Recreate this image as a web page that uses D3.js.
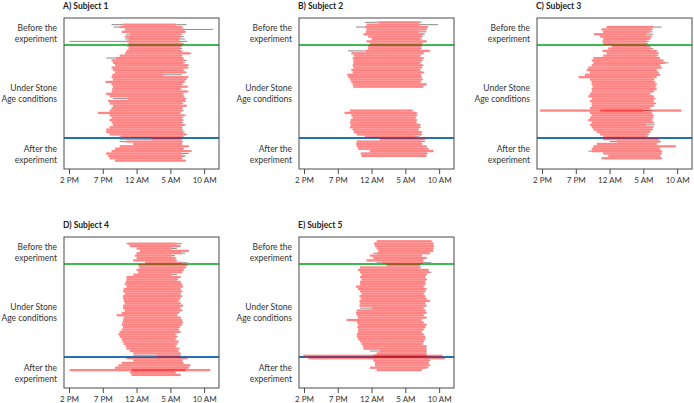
<!DOCTYPE html>
<html><head><meta charset="utf-8">
<script src="https://cdn.jsdelivr.net/npm/d3@7"></script>
<style>body{margin:0;background:#fff}svg{display:block}text{font-family:Lato,"Open Sans",sans-serif}</style>
</head><body><svg id="chart" width="694" height="403"></svg>
<script>
// ---- data ----
const titles = ["A) Subject 1", "B) Subject 2", "C) Subject 3", "D) Subject 4", "E) Subject 5"];
const phaseLabels = [["Before the", "experiment"], ["Under Stone", "Age conditions"], ["After the", "experiment"]];
const tickHours = [14, 19, 24, 29, 34];
const tickLabels = ["2 PM", "7 PM", "12 AM", "5 AM", "10 AM"];
const phaseBreaks = [11.5, 50.5]; // day boundaries: start / end of Stone Age conditions
// rows: [day, in-bed start, sleep onset, sleep offset, out-of-bed] (clock hours)
const subject1 = [
[3,20.3,22.0,5.9,7.4],[4,20.6,21.5,6.7,6.9],[5,22.3,22.3,7.0,11.3],[6,21.8,21.8,7.2,7.3],[7,22.5,23.0,6.5,6.8],
[8,22.3,22.3,6.6,7.0],[9,22.3,22.8,6.3,7.2],[10,14.1,22.5,6.4,7.5],[11,22.8,22.8,6.8,7.0],
[12,22.6,22.8,6.6,6.8],[13,22.8,22.8,6.4,6.7],[14,22.5,22.5,6.6,6.9],[15,22.3,22.3,7.9,8.1],[16,21.5,21.5,6.6,6.8],
[17,19.5,20.9,6.9,7.0],[18,20.3,20.3,7.1,7.4],[19,20.5,20.5,6.9,7.2],[20,20.8,20.8,7.6,7.8],[21,20.3,20.3,7.5,7.7],
[22,20.5,20.5,6.9,7.0],[23,20.8,20.8,7.3,7.4],[24,20.4,20.4,4.0,6.7],[25,20.3,20.3,7.6,7.7],[26,20.5,20.5,7.2,7.4],
[27,19.4,19.4,7.1,7.2],[28,20.3,20.3,6.7,6.9],[29,20.5,20.5,7.5,7.6],[30,20.4,20.4,6.5,6.7],[31,20.3,20.3,7.5,7.7],
[32,19.5,19.5,6.8,7.0],[33,20.0,20.0,7.0,7.1],[34,20.5,22.7,7.2,7.4],[35,19.8,19.8,7.2,7.3],[36,20.0,20.0,6.7,6.9],
[37,20.5,20.5,7.4,7.5],[38,20.3,20.3,6.7,6.9],[39,20.0,20.0,6.8,7.0],[40,18.3,18.3,6.4,6.6],[41,20.0,20.0,7.1,7.3],
[42,20.3,20.3,6.7,6.9],[43,20.0,20.0,6.8,7.0],[44,20.3,20.3,6.7,6.9],[45,20.5,20.5,7.1,7.3],[46,20.0,20.0,6.7,6.8],
[47,19.5,19.5,6.7,6.9],[48,19.5,19.5,6.9,7.1],[49,20.0,20.0,7.3,7.5],[50,21.5,21.8,6.8,7.0],
[51,21.5,2.2,6.7,6.8],[52,21.5,22.5,6.7,6.9],[53,23.5,23.5,6.7,6.8],[54,21.5,21.5,7.7,7.8],[55,20.8,20.8,6.9,7.0],
[56,20.3,20.3,8.0,8.2],[57,19.5,19.5,6.6,7.7],[58,19.8,19.8,7.0,7.3],[59,20.0,20.0,6.7,6.8],[60,20.8,20.8,7.2,7.3]
];
const subject2 = [
[2,23.0,1.0,7.1,7.4],[3,23.25,23.25,7.1,9.85],[4,21.7,23.0,8.3,8.4],[5,23.25,23.25,8.1,8.2],[6,23.15,23.15,7.0,8.1],
[7,22.8,22.8,7.65,7.9],[8,23.5,23.5,7.4,7.6],[9,0.0,0.0,7.15,7.5],[10,23.25,23.25,8.1,8.2],[11,23.75,23.75,7.4,7.6],
[12,23.5,23.5,7.4,7.5],[13,23.5,23.5,7.25,7.4],[14,20.5,23.15,8.6,8.7],[15,21.0,21.0,7.65,7.8],[16,21.3,21.5,7.15,7.3],
[17,21.2,21.2,7.65,7.8],[18,21.3,21.3,7.4,7.6],[19,21.3,21.3,7.15,7.4],[20,21.2,21.2,7.55,7.7],[21,21.3,21.3,7.4,7.5],
[22,21.0,21.0,7.15,7.3],[23,21.2,21.2,7.65,7.8],[24,20.4,20.4,7.25,7.4],[25,20.55,20.55,7.4,7.5],[26,20.8,20.8,7.4,7.6],
[27,21.0,21.0,7.25,7.4],[28,21.2,21.2,8.1,8.2],[29,21.3,21.3,7.65,7.7],
[39,20.8,20.8,6.05,6.2],[40,20.0,20.0,6.65,6.8],[41,21.0,21.0,6.65,6.8],[42,21.2,21.2,6.4,6.6],[43,20.9,20.9,6.65,6.8],
[44,20.8,20.8,6.65,6.7],[45,20.9,20.9,7.15,7.3],[46,20.8,20.8,7.15,7.3],[47,21.2,21.2,6.9,7.0],[48,21.4,21.4,7.4,7.5],
[49,21.8,21.8,7.4,7.5],[50,23.0,23.0,6.4,7.1],
[51,1.2,1.2,7.9,8.0],[52,21.8,21.8,7.4,7.9],[53,21.7,21.7,7.4,7.6],[54,21.8,21.8,8.1,8.2],[55,22.0,22.0,8.4,8.5],
[56,23.75,23.75,9.1,9.2],[57,22.4,22.4,8.1,8.3],[58,22.5,22.5,8.1,8.2]
];
const subject3 = [
[4,23.55,23.55,6.45,7.7],[5,22.8,22.8,6.2,6.4],[6,23.05,23.05,5.95,6.35],[7,21.7,21.7,5.45,6.45],[8,22.6,22.6,6.2,6.3],
[9,23.05,23.05,5.95,6.1],[10,22.95,22.95,5.45,5.8],[11,23.05,23.05,5.45,5.7],
[12,0.3,0.3,5.95,6.1],[13,23.8,23.8,6.2,6.45],[14,22.95,22.95,6.95,7.1],[15,23.55,23.55,7.2,7.3],[16,23.05,23.05,6.95,7.2],
[17,21.6,21.6,7.45,7.5],[18,21.35,21.35,7.95,8.0],[19,21.6,21.6,8.2,8.7],[20,21.35,21.35,7.45,7.6],[21,20.85,20.85,7.7,7.8],
[22,20.6,20.6,6.95,7.1],[23,21.1,21.1,7.2,7.3],[24,20.35,20.35,7.45,7.5],[25,19.4,19.4,6.95,7.0],[26,21.1,21.1,6.45,6.6],
[27,21.35,21.35,6.7,6.8],[28,21.35,21.35,6.95,7.0],[29,21.5,21.5,6.7,6.9],[30,21.35,21.35,6.95,7.0],[31,21.35,21.35,6.45,6.6],
[32,21.1,21.1,5.95,6.1],[33,20.85,20.85,6.45,6.6],[34,21.35,21.35,6.7,6.8],[35,21.1,21.1,6.45,6.6],[36,21.35,21.35,6.7,6.9],
[37,21.35,21.35,6.45,6.6],[38,21.1,21.1,5.95,6.1],[39,13.7,13.7,10.65,10.65],[39,22.6,22.6,5.0,6.2],[40,21.1,21.1,6.2,6.3],
[41,21.35,21.35,6.45,6.6],[42,21.1,21.1,6.45,6.5],[43,20.85,20.85,6.2,6.4],[44,21.35,21.35,6.45,6.6],[45,21.1,21.1,5.45,6.7],
[46,21.35,21.35,6.45,6.5],[47,21.6,21.6,6.2,6.4],[48,22.1,22.1,5.95,6.1],[49,22.6,22.6,5.7,5.8],[50,23.05,23.05,5.45,5.7],
[51,23.05,23.05,7.2,7.4],[52,0.05,1.05,7.45,7.6],[53,22.1,22.1,6.95,7.1],[54,21.6,21.6,9.8,9.8],[55,21.35,21.35,7.45,7.5],
[56,20.85,21.4,7.7,7.8],[57,23.05,23.05,7.7,7.8],[58,23.8,23.8,7.45,7.6],[59,22.8,22.8,7.7,7.8]
];
const subject4 = [
[3,22.5,22.75,5.95,6.7],[4,23.0,23.0,6.45,6.6],[5,0.0,0.0,5.2,5.95],[6,0.5,0.5,7.7,7.8],[7,0.0,0.0,6.7,7.2],
[8,23.75,23.75,5.2,5.7],[9,0.0,0.0,5.7,5.9],[10,23.5,23.5,5.85,6.0],[11,1.25,1.25,6.7,7.5],
[12,0.25,0.25,7.45,7.6],[13,0.4,0.4,7.2,7.3],[14,0.0,0.0,6.95,7.0],[15,0.25,0.25,6.7,6.8],[16,23.5,23.5,5.2,6.0],
[17,22.5,22.5,6.45,6.6],[18,22.5,22.5,5.95,6.1],[19,22.4,22.4,6.45,6.6],[20,22.25,22.25,6.7,6.8],[21,22.5,22.5,6.85,6.9],
[22,22.1,22.1,6.45,6.6],[23,22.0,22.0,6.7,6.8],[24,22.25,22.25,6.45,6.6],[25,22.0,22.0,6.7,6.8],[26,22.0,22.0,6.45,6.5],
[27,22.1,22.1,6.2,6.4],[28,22.25,22.25,6.45,6.6],[29,22.0,22.0,6.85,6.9],[30,22.0,22.0,6.45,6.5],[31,22.25,22.25,6.7,6.8],
[32,21.8,21.8,6.2,6.4],[33,21.05,21.05,5.95,6.1],[34,22.1,22.1,6.45,6.6],[35,22.0,22.0,6.7,6.8],[36,21.9,21.9,6.85,6.9],
[37,21.8,21.8,6.7,6.8],[38,22.0,22.0,6.35,6.5],[39,21.8,21.8,6.2,6.3],[40,21.5,21.5,6.45,6.6],[41,21.3,21.3,5.7,5.9],
[42,21.5,21.5,5.95,6.1],[43,21.8,21.8,5.7,5.9],[44,21.9,21.9,6.2,6.3],[45,22.1,22.1,5.95,6.1],[46,22.4,22.4,5.7,5.9],
[47,22.5,22.5,6.2,6.4],[48,23.0,23.0,6.2,6.3],[49,23.5,23.5,6.45,6.6],[50,23.5,3.0,6.45,6.6],
[51,22.5,22.5,7.45,7.6],[52,23.5,23.5,6.7,6.8],[53,21.8,21.8,6.95,7.0],[54,21.3,21.3,7.9,8.0],[55,20.8,20.8,7.7,7.8],
[56,14.1,14.1,10.9,10.9],[56,23.25,23.25,7.2,7.3],[57,23.0,23.0,5.7,5.8],[58,23.25,23.25,6.45,6.6]
];
const subject5 = [
[2,0.75,0.75,8.85,9.0],[3,0.35,0.35,9.1,9.2],[4,0.5,0.5,9.2,9.3],[5,0.75,0.75,9.1,9.2],[6,1.0,1.0,9.1,9.15],
[7,0.25,0.8,8.6,8.7],[8,23.75,23.75,7.4,7.5],[9,0.25,0.25,8.1,8.2],[10,23.25,23.25,7.65,7.7],[11,0.75,1.5,7.65,8.85],
[12,2.2,2.2,7.15,7.3],[13,22.3,22.3,7.15,7.3],[14,22.0,22.0,8.4,8.5],[15,22.3,22.3,8.6,8.85],[16,22.5,22.5,8.1,8.2],
[17,22.3,22.3,7.9,8.0],[18,22.5,22.5,8.1,8.2],[19,22.3,22.3,7.9,8.0],[20,22.3,22.3,7.9,8.0],[21,21.7,21.7,7.65,7.8],
[22,22.0,22.0,8.1,8.2],[23,22.3,22.3,7.9,8.0],[24,22.5,22.5,7.65,7.8],[25,22.2,22.2,7.9,8.0],[26,22.4,22.4,8.1,8.2],
[27,22.2,22.2,8.6,8.7],[28,22.3,22.3,7.9,8.0],[29,22.2,22.2,8.1,8.2],[30,22.3,0.0,7.65,7.8],[31,21.8,21.8,7.9,8.0],
[32,21.7,21.7,8.1,8.2],[33,21.8,21.8,7.65,7.8],[34,22.0,22.0,8.1,8.2],[35,20.3,20.3,7.4,7.5],[36,21.8,21.8,7.65,7.8],
[37,22.0,22.0,8.1,8.2],[38,21.9,21.9,7.9,8.0],[39,22.0,22.0,7.65,7.8],[40,22.0,22.0,7.4,7.5],[41,21.8,21.8,7.65,7.8],
[42,21.8,21.8,7.9,8.0],[43,22.0,22.0,7.9,8.0],[44,22.3,22.3,7.65,7.8],[45,22.5,22.5,7.55,7.7],[46,22.7,22.7,8.1,8.2],
[47,22.8,22.8,8.1,8.2],[48,23.75,1.25,8.1,8.2],[49,0.75,0.75,8.1,8.2],[50,13.9,13.9,10.5,10.5],[50,0.25,0.25,8.1,8.2],
[51,14.65,14.65,10.85,10.85],
[52,0.25,0.25,8.6,8.7],[53,0.5,0.5,8.4,8.5],[54,0.5,0.5,8.6,8.7],[55,23.75,23.75,8.1,8.4],[56,0.75,0.75,7.4,7.5]
];
const allSubjects = [subject1, subject2, subject3, subject4, subject5];

// ---- layout ----
const panelPos = [[64,18],[299,18],[537,18],[64,237],[299,237]];
const W = 155, H = 151;
const toAxis = h => (h < 12 ? h + 24 : h);
const svg = d3.select("#chart");

allSubjects.forEach((rows, i) => {
  const [left, top] = panelPos[i];
  const g = svg.append("g");
  const x = d3.scaleLinear().domain([13.26, 36.2]).range([left, left + W]);
  const y = d3.scaleLinear().domain([0.2, 63.5]).range([top, top + H]);

  // title
  g.append("text").attr("x", left - 1).attr("y", top - 9)
    .attr("font-size", 8.5).attr("font-weight", "bold").attr("fill", "#222").text(titles[i]);

  // phase labels
  const labelBase = [12.5, 73, 133.5];
  phaseLabels.forEach((lines, k) => {
    lines.forEach((t, j) => {
      g.append("text").attr("x", left - 7).attr("y", top + labelBase[k] + j * 11)
        .attr("text-anchor", "end").attr("font-size", 8.5).attr("fill", "#333").text(t);
    });
  });

  // phase boundary lines (below the bars)
  const lineColors = ["#3dba52", "#2270b5"];
  phaseBreaks.forEach((b, k) => {
    g.append("line").attr("x1", left).attr("x2", left + W)
      .attr("y1", y(b)).attr("y2", y(b))
      .attr("stroke", lineColors[k]).attr("stroke-width", 2);
  });

  // time in bed outside sleep (grey)
  const segs = [];
  rows.forEach(d => {
    segs.push([d[0], d[1], d[2]]);
    segs.push([d[0], d[3], d[4]]);
  });
  g.selectAll("line.bed").data(segs.filter(s => toAxis(s[2]) > toAxis(s[1]))).join("line").attr("class", "bed")
    .attr("x1", d => x(toAxis(d[1]))).attr("x2", d => x(toAxis(d[2])))
    .attr("y1", d => y(d[0])).attr("y2", d => y(d[0]))
    .attr("stroke", "#8a8a8a").attr("stroke-width", 1);

  // sleep (red)
  g.selectAll("rect.sleep").data(rows).join("rect").attr("class", "sleep")
    .attr("x", d => x(toAxis(d[2])))
    .attr("width", d => Math.max(0, x(toAxis(d[3])) - x(toAxis(d[2]))))
    .attr("y", d => y(d[0]) - 1.15).attr("height", 2.3)
    .attr("fill", "#ff0000").attr("fill-opacity", 0.48);

  // frame
  g.append("rect").attr("x", left).attr("y", top).attr("width", W).attr("height", H)
    .attr("fill", "none").attr("stroke", "#4a4a4a").attr("stroke-width", 1);

  // x axis
  const ax = d3.axisBottom(x).tickValues(tickHours).tickSize(5).tickPadding(3)
    .tickFormat((d, k) => tickLabels[k]);
  const axg = g.append("g").attr("transform", `translate(0,${top + H})`).call(ax);
  axg.select(".domain").remove();
  axg.selectAll(".tick line").attr("stroke", "#4a4a4a");
  axg.selectAll(".tick text").attr("font-size", 8).attr("fill", "#333")
    .attr("font-family", "Lato, 'Open Sans', sans-serif");
});
</script></body></html>
